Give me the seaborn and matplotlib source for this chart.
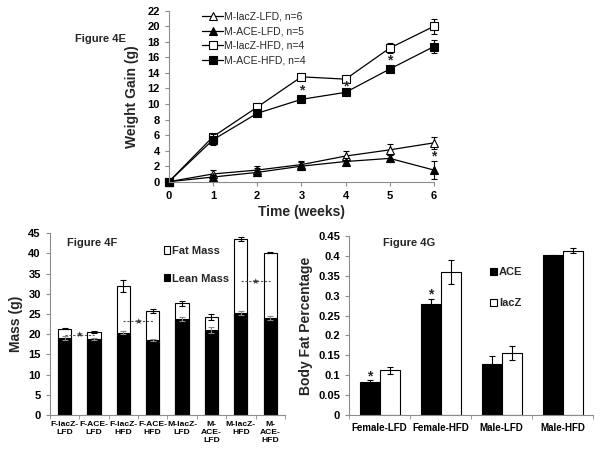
import matplotlib
matplotlib.use("Agg")
import matplotlib.pyplot as plt
import numpy as np
import pandas as pd
import seaborn as sns

sns.set_style("ticks")
plt.rcParams["font.family"] = ["Liberation Sans", "DejaVu Sans"]
plt.rcParams["font.weight"] = "bold"

# ── data: Figure 4E (weight gain) ───────────────────────────────────────────
weeks = [0, 1, 2, 3, 4, 5, 6]
lacz_lfd = [0, 1.0, 1.5, 2.2, 3.3, 4.1, 5.0]
ace_lfd = [0, 0.6, 1.2, 2.0, 2.6, 3.0, 1.5]
lacz_hfd = [0, 5.8, 9.6, 13.5, 13.2, 17.2, 20.0]
ace_hfd = [0, 5.4, 8.8, 10.6, 11.5, 14.5, 17.4]
lacz_lfd_err = [0, 0.5, 0.5, 0.5, 0.6, 0.7, 0.8]
ace_lfd_err = [0, 0.3, 0.5, 0.5, 0.4, 0.5, 1.2]
lacz_hfd_err = [0, 0.3, 0.5, 0.2, 0.3, 0.6, 1.0]
ace_hfd_err = [0, 0.7, 0.3, 0.3, 0.3, 0.3, 0.8]

# ── data: Figure 4F (body composition) ──────────────────────────────────────
groups_f = ["F-lacZ-\nLFD", "F-ACE-\nLFD", "F-lacZ-\nHFD", "F-ACE-\nHFD",
            "M-lacZ-\nLFD", "M-\nACE-\nLFD", "M-lacZ-\nHFD", "M-\nACE-\nHFD"]
lean_mass = [19.0, 18.8, 20.4, 18.6, 23.7, 21.1, 25.3, 24.0]
total_mass = [21.4, 20.6, 32.0, 25.8, 27.7, 24.3, 43.6, 40.2]
lean_err = [0.5, 0.3, 0.3, 0.2, 0.5, 0.8, 0.5, 0.4]
total_err = [0.1, 0.2, 1.5, 0.5, 0.6, 0.7, 0.6, 0.2]

# ── data: Figure 4G (body fat %) ────────────────────────────────────────────
groups_g = ["Female-LFD", "Female-HFD", "Male-LFD", "Male-HFD"]
fat_ace = [0.083, 0.279, 0.128, 0.401]
fat_lacz = [0.112, 0.359, 0.156, 0.413]
fat_ace_err = [0.004, 0.012, 0.02, 0.002]
fat_lacz_err = [0.008, 0.03, 0.018, 0.007]

SPINE = "#8c8c8c"
TICKFS = 8


def style_axes(ax):
    sns.despine(ax=ax)
    for s in ("left", "bottom"):
        ax.spines[s].set_color(SPINE)
        ax.spines[s].set_linewidth(0.8)
    ax.tick_params(axis="both", colors=SPINE, length=3, width=0.8,
                   labelcolor="black", labelsize=TICKFS)
    for lab in ax.get_xticklabels() + ax.get_yticklabels():
        lab.set_fontweight("bold")


fig = plt.figure(figsize=(6.01, 4.57), dpi=100)

# ── 1. Figure 4E ────────────────────────────────────────────────────────────
ax1 = fig.add_axes([0.281, 0.6024, 0.441, 0.374])
series = [
    ("M-lacZ-LFD, n=6", lacz_lfd, lacz_lfd_err, "^", "white"),
    ("M-ACE-LFD, n=5", ace_lfd, ace_lfd_err, "^", "black"),
    ("M-lacZ-HFD, n=4", lacz_hfd, lacz_hfd_err, "s", "white"),
    ("M-ACE-HFD, n=4", ace_hfd, ace_hfd_err, "s", "black"),
]
for name, vals, err, mk, fc in series:
    ax1.errorbar(weeks, vals, yerr=err, fmt="none", ecolor="black",
                 elinewidth=0.8, capsize=2, capthick=0.8, clip_on=False)
    sns.lineplot(x=weeks, y=vals, ax=ax1, color="black", linewidth=0.9,
                 marker=mk, markersize=6 if mk == "s" else 5.5,
                 markerfacecolor=fc, markeredgecolor="black",
                 markeredgewidth=0.8, label=name, clip_on=False)
for x, y in [(3, 11.7), (4, 12.3), (5, 15.6), (6, 3.3)]:
    ax1.text(x, y, "*", ha="center", va="center", fontsize=10,
             fontweight="bold")
ax1.set_xlim(0, 6)
ax1.set_ylim(0, 22)
ax1.set_xticks(weeks)
ax1.set_yticks(range(0, 23, 2))
ax1.set_xlabel("Time (weeks)", fontsize=10, fontweight="bold", labelpad=3)
ax1.set_ylabel("Weight Gain (g)", fontsize=10, fontweight="bold", labelpad=6)
leg = ax1.legend(loc="upper left", bbox_to_anchor=(0.11, 1.02), frameon=False,
                 fontsize=7.5, handlelength=2.0, handletextpad=0.1,
                 labelspacing=0.45, borderaxespad=0)
for t in leg.get_texts():
    t.set_fontweight("normal")
style_axes(ax1)
fig.text(0.125, 0.915, "Figure 4E", fontsize=8, fontweight="bold",
         ha="left", va="center")

# ── 2. Figure 4F ────────────────────────────────────────────────────────────
ax2 = fig.add_axes([0.083, 0.0919, 0.391, 0.3976])
df_f = pd.DataFrame({"group": groups_f, "lean": lean_mass, "total": total_mass})
sns.barplot(data=df_f, x="group", y="total", ax=ax2, color="white",
            edgecolor="black", linewidth=0.8, width=0.45, errorbar=None,
            label="Fat Mass")
sns.barplot(data=df_f, x="group", y="lean", ax=ax2, color="black",
            edgecolor="black", linewidth=0.8, width=0.45, errorbar=None,
            label="Lean Mass")
xs = np.arange(len(groups_f))
ax2.errorbar(xs, total_mass, yerr=total_err, fmt="none", ecolor="black",
             elinewidth=0.8, capsize=2, capthick=0.8)
ax2.errorbar(xs, lean_mass, yerr=lean_err, fmt="none", ecolor="#888888",
             elinewidth=0.8, capsize=2, capthick=0.8)
for x0, x1, y in [(0, 1, 19.9), (2, 3, 23.2), (6, 7, 33.1)]:
    ax2.plot([x0, x1], [y, y], ls=(0, (2, 1.5)), color="#555555", lw=0.8)
    ax2.text((x0 + x1) / 2, y, "★", ha="center", va="center", fontsize=6,
             color="#333333", family="DejaVu Sans")
ax2.set_xlim(-0.5, 7.5)
ax2.set_ylim(0, 45)
ax2.set_yticks(range(0, 46, 5))
ax2.set_xticks(np.arange(-0.5, 8, 1), minor=True)
ax2.set_xlabel("")
ax2.set_ylabel("Mass (g)", fontsize=10, fontweight="bold", labelpad=4)
style_axes(ax2)
ax2.tick_params(axis="x", which="major", length=0, labelsize=6.1, pad=4)
ax2.tick_params(axis="x", which="minor", length=3, color=SPINE)
for lab in ax2.get_xticklabels():
    lab.set_fontweight("bold")
    lab.set_linespacing(1.2)
leg2 = ax2.legend(loc="upper left", bbox_to_anchor=(0.465, 0.955),
                  frameon=False, fontsize=8, handlelength=0.6,
                  handleheight=0.6, handletextpad=0.2, labelspacing=1.6,
                  borderaxespad=0)
for t in leg2.get_texts():
    t.set_fontweight("bold")
fig.text(0.112, 0.468, "Figure 4F", fontsize=8, fontweight="bold",
         ha="left", va="center")

# ── 3. Figure 4G ────────────────────────────────────────────────────────────
ax3 = fig.add_axes([0.581, 0.0919, 0.406, 0.3917])
df_g = pd.DataFrame({
    "group": groups_g * 2,
    "gene": ["ACE"] * 4 + ["lacZ"] * 4,
    "fat": fat_ace + fat_lacz,
})
sns.barplot(data=df_g, x="group", y="fat", hue="gene", ax=ax3,
            palette={"ACE": "black", "lacZ": "white"}, edgecolor="black",
            linewidth=0.8, width=0.66, errorbar=None)
gx = np.arange(len(groups_g))
ax3.errorbar(gx - 0.165, fat_ace, yerr=fat_ace_err, fmt="none",
             ecolor="black", elinewidth=0.8, capsize=2, capthick=0.8)
ax3.errorbar(gx + 0.165, fat_lacz, yerr=fat_lacz_err, fmt="none",
             ecolor="black", elinewidth=0.8, capsize=2, capthick=0.8)
for x, y in [(-0.165, 0.098), (0.835, 0.302)]:
    ax3.text(x, y, "*", ha="center", va="center", fontsize=10,
             fontweight="bold")
ax3.set_xlim(-0.5, 3.5)
ax3.set_ylim(0, 0.45)
yt = np.round(np.arange(0, 0.451, 0.05), 2)
ax3.set_yticks(yt)
ax3.set_yticklabels([f"{v:g}" for v in yt])
ax3.set_xticks(np.arange(-0.5, 4, 1), minor=True)
ax3.set_xlabel("")
ax3.set_ylabel("Body Fat Percentage", fontsize=10, fontweight="bold",
               labelpad=4)
style_axes(ax3)
ax3.tick_params(axis="x", which="major", length=0, labelsize=7, pad=6)
ax3.tick_params(axis="x", which="minor", length=3, color=SPINE)
for lab in ax3.get_xticklabels():
    lab.set_fontweight("bold")
leg3 = ax3.legend(loc="upper left", bbox_to_anchor=(0.56, 0.85), frameon=False,
                  fontsize=8, handlelength=0.6, handleheight=0.6,
                  handletextpad=0.2, labelspacing=1.9, borderaxespad=0,
                  title=None)
for t in leg3.get_texts():
    t.set_fontweight("bold")
fig.text(0.638, 0.468, "Figure 4G", fontsize=8, fontweight="bold",
         ha="left", va="center")

fig.savefig("out.png", dpi=100)
